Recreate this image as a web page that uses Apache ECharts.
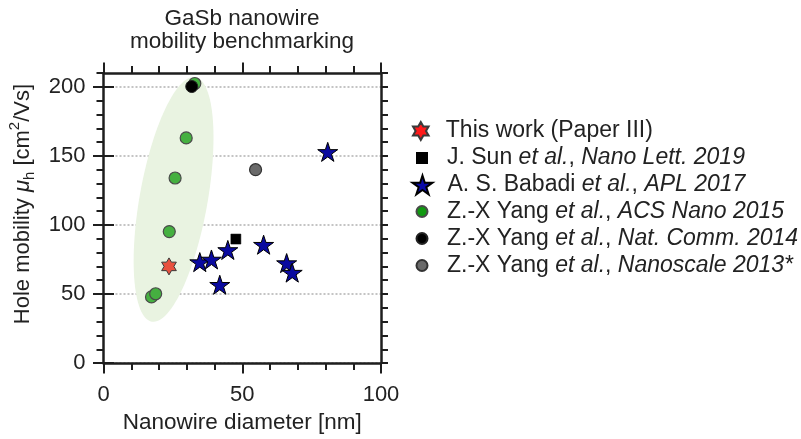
<!DOCTYPE html>
<html>
<head>
<meta charset="utf-8">
<script src="https://cdn.jsdelivr.net/npm/echarts@6/dist/echarts.min.js"></script>
<style>
html,body{margin:0;padding:0;background:#fff;}
#chart{width:801px;height:439px;}
</style>
</head>
<body>
<div id="chart"></div>
<script>
// ---- data ----
const seriesNames = [
  'This work (Paper III)',
  'J. Sun et al., Nano Lett. 2019',
  'A. S. Babadi et al., APL 2017',
  'Z.-X Yang et al., ACS Nano 2015',
  'Z.-X Yang et al., Nat. Comm. 2014',
  'Z.-X Yang et al., Nanoscale 2013*'
];
const thisWork = [[23.6, 70]];
const sun2019 = [[47.7, 89.8]];
const babadi2017 = [[34.7, 73.1], [38.9, 75], [41.9, 56.7], [44.8, 81.9], [57.7, 85.7], [66, 72.4], [68, 65.5], [80.8, 152.9]];
const yangACS2015 = [[17.3, 47.9], [18.8, 50.2], [23.7, 95.2], [25.8, 134], [29.8, 163], [32.9, 202.4]];
const yangNat2014 = [[31.8, 200.2]];
const yangNano2013 = [[54.8, 140]];
// shaded guide ellipse: its two tips in data units
const ellipseTips = [[33.1, 207], [17.4, 30]];
const xTicks = [0, 50, 100];
const yTicks = [0, 50, 100, 150, 200];

// ---- styling ----
const FONT = 'Liberation Sans, Arial, sans-serif';
const TXT = '#222';
const AX = '#1e1e1e';
const STAR5 = 'path://M0,-10 L2.245,-3.09 L9.511,-3.09 L3.633,1.18 L5.878,8.09 L0,3.82 L-5.878,8.09 L-3.633,1.18 L-9.511,-3.09 L-2.245,-3.09 Z';
const STAR6 = 'path://M0,-10 L2.887,-5 L8.66,-5 L5.774,0 L8.66,5 L2.887,5 L0,10 L-2.887,5 L-8.66,5 L-5.774,0 L-8.66,-5 L-2.887,-5 Z';
const SQUARE = 'path://M0,0 L10,0 L10,10 L0,10 Z';

const LFS = 23;
const legendRich = {
  n: {fontSize: LFS, fontFamily: FONT, color: TXT},
  i: {fontSize: LFS, fontFamily: FONT, color: TXT, fontStyle: 'italic'}
};
const legendLabels = {};
legendLabels[seriesNames[0]] = '{n|This work (Paper III)}';
legendLabels[seriesNames[1]] = '{n|J. Sun }{i|et al.}{n|, }{i|Nano Lett. 2019}';
legendLabels[seriesNames[2]] = '{n|A. S. Babadi }{i|et al.}{n|, }{i|APL 2017}';
legendLabels[seriesNames[3]] = '{n|Z.-X Yang }{i|et al.}{n|, }{i|ACS Nano 2015}';
legendLabels[seriesNames[4]] = '{n|Z.-X Yang }{i|et al.}{n|, }{i|Nat. Comm. 2014}';
legendLabels[seriesNames[5]] = '{n|Z.-X Yang }{i|et al.}{n|, }{i|Nanoscale 2013*}';

const legendRowCenters = [131, 158, 185, 211.5, 238.5, 265.5];
const legendIconSizes = [18, 10, 19, 11, 11, 11];
const legendIconColors = ['#ff1a1a', '#000', '#0a0aa6', '#119911', '#000', '#6a6a6a'];
const LEGEND_ICON_CENTER = 421;

const legends = seriesNames.map((nm, k) => ({
  data: [{name: nm, itemStyle: {color: legendIconColors[k]}}],
  orient: 'horizontal',
  left: LEGEND_ICON_CENTER - legendIconSizes[k] / 2,
  top: legendRowCenters[k] - 12,
  padding: 0,
  itemWidth: 40,
  itemHeight: legendIconSizes[k],
  selectedMode: false,
  textStyle: {fontSize: LFS, fontFamily: FONT, color: TXT, lineHeight: 24, rich: legendRich},
  formatter: name => legendLabels[name]
}));

const chart = echarts.init(document.getElementById('chart'), null, {renderer: 'canvas'});

const commonX = {
  type: 'value', min: 0, max: 100, interval: 50,
  axisLine: {show: true, onZero: false, lineStyle: {color: AX, width: 2.5}},
  axisTick: {show: true, inside: false, length: 10.5, lineStyle: {color: AX, width: 2}},
  minorTick: {show: true, splitNumber: 5, length: 7, lineStyle: {color: AX, width: 2}},
  splitLine: {show: false}
};

const option = {
  animation: false,
  backgroundColor: '#fff',
  title: {
    text: 'GaSb nanowire\nmobility benchmarking',
    left: 242, top: 7, padding: 0, textAlign: 'center',
    textStyle: {fontSize: 22.5, fontWeight: 'normal', fontFamily: FONT, color: TXT, lineHeight: 23.5}
  },
  legend: legends,
  grid: {left: 103.5, right: 420, top: 73, bottom: 74, containLabel: false},
  xAxis: [
    Object.assign({}, commonX, {
      position: 'bottom',
      axisLabel: {show: true, customValues: xTicks, fontSize: 22, fontFamily: FONT, color: TXT, margin: 21},
      name: 'Nanowire diameter [nm]', nameLocation: 'middle', nameGap: 43,
      nameTextStyle: {fontSize: 22.5, fontFamily: FONT, color: TXT}
    }),
    Object.assign({}, commonX, {position: 'top', axisLabel: {show: false}})
  ],
  yAxis: [
    { // short ticks every 10, left
      type: 'value', min: 0, max: 210, interval: 10, position: 'left',
      axisLine: {show: true, onZero: false, lineStyle: {color: AX, width: 2.5}},
      axisTick: {show: true, length: 7, lineStyle: {color: AX, width: 2}},
      axisLabel: {show: false}, splitLine: {show: false}
    },
    { // short ticks every 10, right
      type: 'value', min: 0, max: 210, interval: 10, position: 'right',
      axisLine: {show: true, onZero: false, lineStyle: {color: AX, width: 2.5}},
      axisTick: {show: true, length: 7, lineStyle: {color: AX, width: 2}},
      axisLabel: {show: false}, splitLine: {show: false}
    },
    { // long ticks, labels and grid, left
      type: 'value', min: 0, max: 210, interval: 50, position: 'left',
      axisLine: {show: false},
      axisTick: {show: true, customValues: yTicks, length: 10.5, lineStyle: {color: AX, width: 2}},
      axisLabel: {show: true, customValues: yTicks, fontSize: 22, fontFamily: FONT, color: TXT, margin: 18},
      splitLine: {show: true, lineStyle: {color: '#c4c4c4', width: 2, type: [2, 2]}},
      name: 'Hole mobility {mu|μ}{sub|h} [cm{sup|2}/Vs]',
      nameLocation: 'middle', nameGap: 66, nameRotate: 90,
      nameTextStyle: {
        fontSize: 22, fontFamily: FONT, color: TXT, lineHeight: 30, padding: [0, 0, 0, 28],
        rich: {
          mu: {fontSize: 22, fontFamily: FONT, color: TXT, fontStyle: 'italic', lineHeight: 30},
          sub: {fontSize: 15, fontFamily: FONT, color: TXT, lineHeight: 15, verticalAlign: 'bottom'},
          sup: {fontSize: 15, fontFamily: FONT, color: TXT, lineHeight: 15, verticalAlign: 'top'}
        }
      }
    },
    { // long ticks, right
      type: 'value', min: 0, max: 210, interval: 50, position: 'right',
      axisLine: {show: false},
      axisTick: {show: true, customValues: yTicks, length: 10.5, lineStyle: {color: AX, width: 2}},
      axisLabel: {show: false}, splitLine: {show: false}
    }
  ],
  series: [
    {
      type: 'custom', name: 'guide', silent: true, z: 1,
      xAxisIndex: 0, yAxisIndex: 0,
      data: [ellipseTips[0]],
      renderItem: function (params, api) {
        const p1 = api.coord(ellipseTips[0]);
        const p2 = api.coord(ellipseTips[1]);
        const cx = (p1[0] + p2[0]) / 2, cy = (p1[1] + p2[1]) / 2;
        const dx = p1[0] - p2[0], dy = p1[1] - p2[1];
        const a = Math.sqrt(dx * dx + dy * dy) / 2;
        const b = 34;
        const ang = Math.atan2(dy, dx);
        const pts = [];
        for (let t = 0; t < 120; t++) {
          const th = t / 120 * Math.PI * 2;
          const u = Math.cos(th) * a, v = Math.sin(th) * b;
          pts.push([cx + u * Math.cos(ang) - v * Math.sin(ang), cy + u * Math.sin(ang) + v * Math.cos(ang)]);
        }
        return {type: 'polygon', shape: {points: pts}, style: {fill: '#e9f3e1'}};
      }
    },
    {
      type: 'scatter', name: seriesNames[0], data: thisWork, symbol: STAR6, symbolSize: 17, symbolKeepAspect: true,
      itemStyle: {color: '#e8503e', borderColor: '#3a3a3a', borderWidth: 1, opacity: 1}, z: 5
    },
    {
      type: 'scatter', name: seriesNames[1], data: sun2019, symbol: SQUARE, symbolSize: 10, symbolKeepAspect: true,
      itemStyle: {color: '#000', borderColor: '#000', borderWidth: 0.5, opacity: 1}, z: 5
    },
    {
      type: 'scatter', name: seriesNames[2], data: babadi2017, symbol: STAR5, symbolSize: 20, symbolKeepAspect: true,
      itemStyle: {color: '#0a0aa0', borderColor: '#000', borderWidth: 1, opacity: 1}, z: 5
    },
    {
      type: 'scatter', name: seriesNames[3], data: yangACS2015, symbol: 'circle', symbolSize: 12, symbolKeepAspect: true,
      itemStyle: {color: '#45b040', borderColor: '#4a4a4a', borderWidth: 1.2, opacity: 1}, z: 5
    },
    {
      type: 'scatter', name: seriesNames[4], data: yangNat2014, symbol: 'circle', symbolSize: 12, symbolKeepAspect: true,
      itemStyle: {color: '#000', borderColor: '#222', borderWidth: 1, opacity: 1}, z: 5
    },
    {
      type: 'scatter', name: seriesNames[5], data: yangNano2013, symbol: 'circle', symbolSize: 12, symbolKeepAspect: true,
      itemStyle: {color: '#6a6a6a', borderColor: '#333', borderWidth: 1.2, opacity: 1}, z: 5
    }
  ]
};
chart.setOption(option);
</script>
</body>
</html>
